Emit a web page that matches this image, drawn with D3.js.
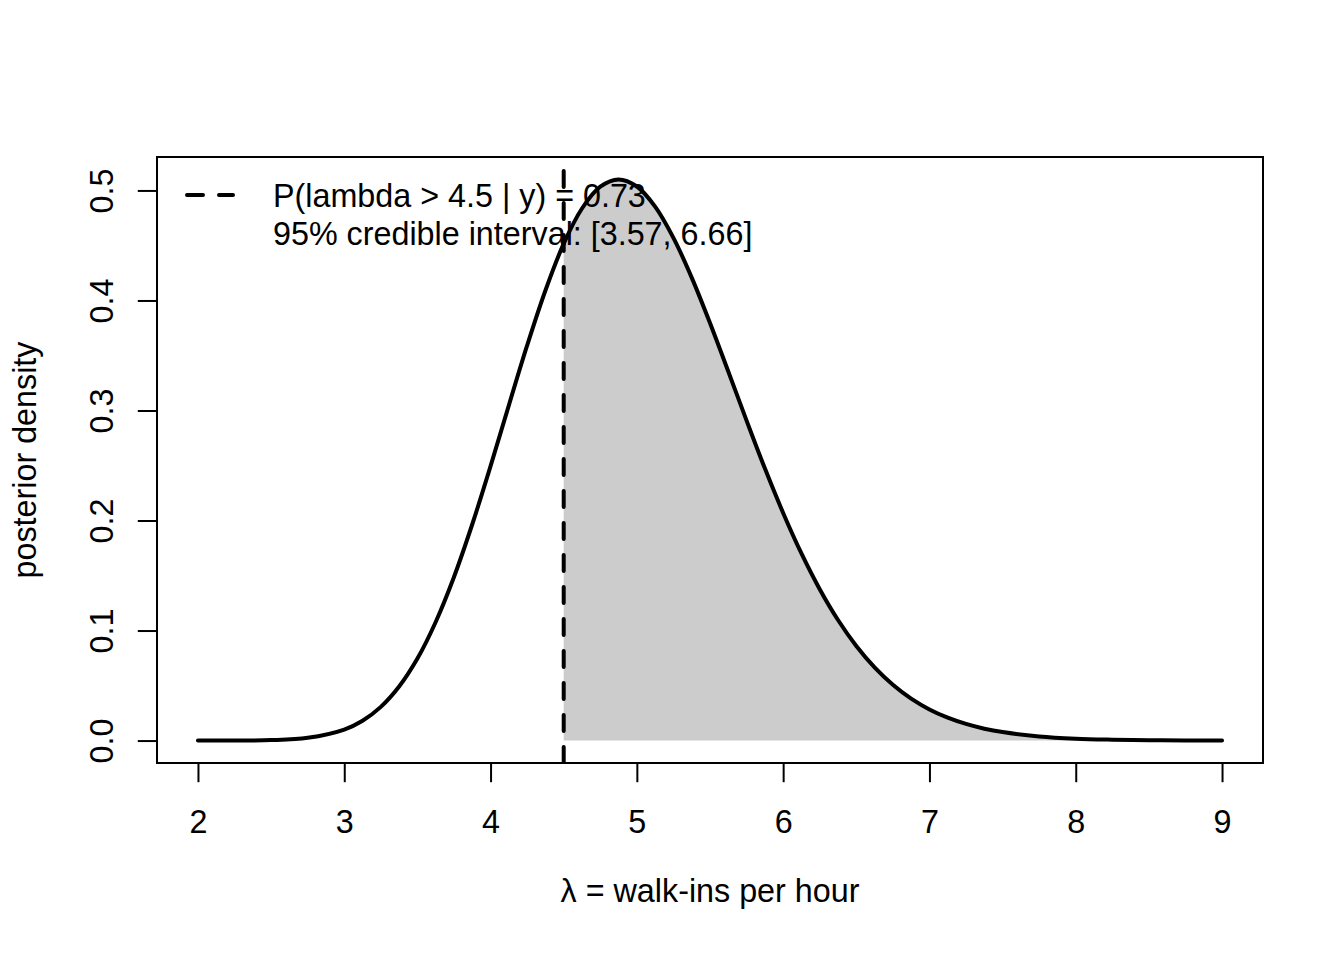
<!DOCTYPE html>
<html>
<head>
<meta charset="utf-8">
<script src="https://cdn.jsdelivr.net/npm/d3@7"></script>
<style>
  html, body { margin: 0; padding: 0; background: #fff; }
  svg { display: block; font-family: "Liberation Sans", Arial, Helvetica, sans-serif; }
</style>
</head>
<body>
<div id="chart"></div>
<script>
// posterior density of lambda
const lambdaVals = [2, 2.25, 2.5, 2.75, 3, 3.125, 3.25, 3.375, 3.5, 3.625, 3.75, 3.875,
  4, 4.125, 4.25, 4.375, 4.5, 4.625, 4.75, 4.875, 5, 5.125, 5.25, 5.375, 5.5, 5.625,
  5.75, 5.875, 6, 6.125, 6.25, 6.375, 6.5, 6.625, 6.75, 6.875, 7, 7.125, 7.25, 7.375,
  7.5, 7.75, 8, 8.25, 8.5, 8.75, 9];
const densityVals = [0.0000, 0.0001, 0.0004, 0.0025, 0.0100, 0.0180, 0.0306, 0.0491,
  0.0745, 0.1078, 0.1487, 0.1966, 0.2494, 0.3047, 0.3591, 0.4091, 0.4516, 0.4836,
  0.5034, 0.5100, 0.5036, 0.4853, 0.4569, 0.4208, 0.3795, 0.3354, 0.2908, 0.2474,
  0.2069, 0.1701, 0.1376, 0.1096, 0.0860, 0.0665, 0.0507, 0.0381, 0.0283, 0.0208,
  0.0151, 0.0108, 0.0077, 0.0037, 0.0017, 0.0008, 0.0003, 0.0001, 0.0001];

const xTicks = [2, 3, 4, 5, 6, 7, 8, 9];
const yTicks = [0, 0.1, 0.2, 0.3, 0.4, 0.5];
const xLimits = [2, 9];
const yLimits = [0, 0.51];
const cutoff = 4.5;
const legendLines = ["P(lambda > 4.5 | y) = 0.73", "95% credible interval: [3.57, 6.66]"];
const xTitle = "\u03bb = walk-ins per hour";
const yTitle = "posterior density";

const width = 1344, height = 960;
const box = { left: 157, top: 157, right: 1263, bottom: 763 };
const fontSize = 32.3;
const fontFamily = "\"Liberation Sans\", Arial, sans-serif";

let data = lambdaVals.map((x, i) => ({ x: x, y: densityVals[i] }));

// R style 4% padding on both axes
let xPad = (xLimits[1] - xLimits[0]) * 0.04;
let yPad = (yLimits[1] - yLimits[0]) * 0.04;

let x = d3.scaleLinear()
  .domain([xLimits[0] - xPad, xLimits[1] + xPad])
  .range([box.left, box.right]);

let y = d3.scaleLinear()
  .domain([yLimits[0] - yPad, yLimits[1] + yPad])
  .range([box.bottom, box.top]);

const svg = d3.select("#chart").append("svg")
  .attr("width", width)
  .attr("height", height)
  .attr("viewBox", `0 0 ${width} ${height}`);

svg.append("rect")
  .attr("width", width)
  .attr("height", height)
  .attr("fill", "#fff");

svg.append("defs").append("clipPath")
  .attr("id", "plotClip")
  .append("rect")
  .attr("x", box.left)
  .attr("y", box.top)
  .attr("width", box.right - box.left)
  .attr("height", box.bottom - box.top);

const curve = d3.curveCatmullRom.alpha(0.5);

// shaded tail, lambda > cutoff
let tail = data.filter(d => d.x >= cutoff);

svg.append("path")
  .datum(tail)
  .attr("fill", "#cccccc")
  .attr("d", d3.area()
    .x(d => x(d.x))
    .y0(y(0))
    .y1(d => y(d.y))
    .curve(curve));

svg.append("path")
  .datum(data)
  .attr("fill", "none")
  .attr("stroke", "#000")
  .attr("stroke-width", 4)
  .attr("stroke-linecap", "round")
  .attr("stroke-linejoin", "round")
  .attr("d", d3.line()
    .x(d => x(d.x))
    .y(d => y(d.y))
    .curve(curve));

// vertical dashed line at the cutoff, drawn bottom to top
svg.append("line")
  .attr("clip-path", "url(#plotClip)")
  .attr("x1", x(cutoff))
  .attr("x2", x(cutoff))
  .attr("y1", box.bottom)
  .attr("y2", box.top)
  .attr("stroke", "#000")
  .attr("stroke-width", 4)
  .attr("stroke-dasharray", "16,16")
  .attr("stroke-linecap", "round");

// plot box
svg.append("rect")
  .attr("x", box.left)
  .attr("y", box.top)
  .attr("width", box.right - box.left)
  .attr("height", box.bottom - box.top)
  .attr("fill", "none")
  .attr("stroke", "#000")
  .attr("stroke-width", 2);

// x axis
const xAxis = svg.append("g")
  .attr("transform", `translate(0,${box.bottom})`)
  .call(d3.axisBottom(x).tickValues(xTicks).tickSize(19.2).tickFormat(d3.format("d")));

xAxis.select(".domain").remove();
xAxis.append("line")
  .attr("x1", x(xTicks[0]))
  .attr("x2", x(xTicks[xTicks.length - 1]))
  .attr("stroke", "#000")
  .attr("stroke-width", 2);
xAxis.selectAll(".tick line").attr("stroke", "#000").attr("stroke-width", 2);
xAxis.selectAll(".tick text")
  .attr("y", 70)
  .attr("dy", null)
  .attr("fill", "#000")
  .style("font-size", fontSize + "px")
  .style("font-family", fontFamily);

// y axis, labels turned like R's las = 0
const yAxis = svg.append("g")
  .attr("transform", `translate(${box.left},0)`)
  .call(d3.axisLeft(y).tickValues(yTicks).tickSize(19.2).tickFormat(d3.format(".1f")));

yAxis.select(".domain").remove();
yAxis.append("line")
  .attr("y1", y(yTicks[0]))
  .attr("y2", y(yTicks[yTicks.length - 1]))
  .attr("stroke", "#000")
  .attr("stroke-width", 2);
yAxis.selectAll(".tick line").attr("stroke", "#000").attr("stroke-width", 2);
yAxis.selectAll(".tick text")
  .attr("transform", "rotate(-90)")
  .attr("x", 0)
  .attr("y", -44)
  .attr("dy", null)
  .attr("text-anchor", "middle")
  .attr("fill", "#000")
  .style("font-size", fontSize + "px")
  .style("font-family", fontFamily);

// axis titles
svg.append("text")
  .attr("x", (box.left + box.right) / 2)
  .attr("y", 902)
  .attr("text-anchor", "middle")
  .style("font-size", fontSize + "px")
  .text(xTitle);

svg.append("text")
  .attr("transform", `translate(36,${(box.top + box.bottom) / 2}) rotate(-90)`)
  .attr("text-anchor", "middle")
  .style("font-size", fontSize + "px")
  .text(yTitle);

// legend
const legend = svg.append("g");

legend.append("line")
  .attr("x1", 187)
  .attr("x2", 233)
  .attr("y1", 195)
  .attr("y2", 195)
  .attr("stroke", "#000")
  .attr("stroke-width", 4)
  .attr("stroke-dasharray", "16,16")
  .attr("stroke-linecap", "round");

legend.selectAll("text")
  .data(legendLines)
  .join("text")
  .attr("x", 273)
  .attr("y", (d, i) => 207 + i * 38.4)
  .style("font-size", fontSize + "px")
  .text(d => d);
</script>
</body>
</html>
